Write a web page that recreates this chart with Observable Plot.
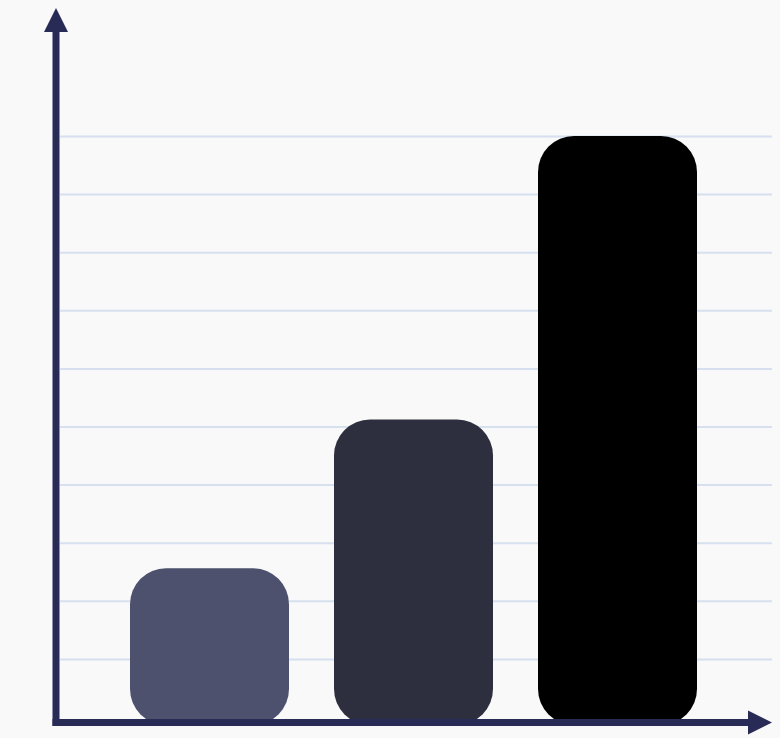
<!DOCTYPE html>
<html>
<head>
<meta charset="utf-8">
<script src="https://cdn.jsdelivr.net/npm/d3@7"></script>
<script src="https://cdn.jsdelivr.net/npm/@observablehq/plot@0.6"></script>
<style>
  html, body { margin: 0; padding: 0; background: #f9f9fa; }
  #chart svg { display: block; }
</style>
</head>
<body>
<div id="chart"></div>
<script>
const categories = ["A", "B", "C"];
const values = [25.6, 51.2, 100];
const barColors = ["#4e516d", "#2e2f3e", "#000000"];
const gridTicks = [10, 20, 30, 40, 50, 60, 70, 80, 90, 100];

const data = categories.map((c, i) => ({category: c, value: values[i], color: barColors[i]}));

const axisColor = "#282b56";
const W = 780, H = 738;

const plot = Plot.plot({
  width: W,
  height: H,
  marginLeft: 60,
  marginRight: 8,
  marginTop: 0,
  marginBottom: 0,
  style: {background: "#f9f9fa"},
  x: {domain: categories, range: [85, 742], padding: 0.22, axis: null},
  y: {domain: [0, 100], range: [717, 136], axis: null},
  marks: [
    Plot.ruleY(gridTicks, {stroke: "#d6e0ee", strokeWidth: 2}),
    Plot.barY(data, {x: "category", y: "value", fill: "color", rx: 36, ry: 36, insetBottom: -8})
  ]
});

document.getElementById("chart").appendChild(plot);

// axis lines with filled arrowheads, positioned from the scales
const svg = d3.select(plot);
const y = plot.scale("y");
const y0 = y.apply(0) + 5.5;
const xAxisX = 56;
const g = svg.append("g").attr("fill", axisColor).attr("stroke", "none");
// y axis
g.append("rect").attr("x", xAxisX - 3.5).attr("y", 30).attr("width", 7).attr("height", y0 + 3.5 - 30);
g.append("path").attr("d", `M${xAxisX},8 L${xAxisX + 12},32 L${xAxisX - 12},32 Z`);
// x axis
g.append("rect").attr("x", xAxisX - 3.5).attr("y", y0 - 3.5).attr("width", 750 - (xAxisX - 3.5)).attr("height", 7);
g.append("path").attr("d", `M772,${y0} L748,${y0 - 12} L748,${y0 + 12} Z`);
</script>
</body>
</html>
